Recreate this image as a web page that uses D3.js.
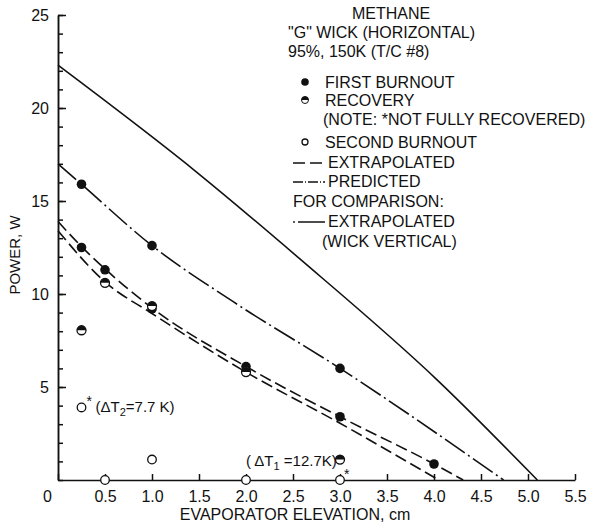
<!DOCTYPE html>
<html>
<head>
<meta charset="utf-8">
<script src="https://cdn.jsdelivr.net/npm/d3@7"></script>
<style>
  body { margin: 0; background: #fff; }
  svg { font-family: "Liberation Sans", Arial, sans-serif; }
  text { fill: #111; }
</style>
</head>
<body>
<svg width="589" height="526"></svg>
<script>
// points (evaporator elevation cm, power W)
const firstBurnoutX = [0.25, 1.0, 0.25, 0.5, 1.0, 2.0, 3.0, 3.0, 4.0];
const firstBurnoutY = [15.9, 12.6, 12.5, 11.3, 9.2, 6.1, 6.0, 3.4, 0.86];

const recoveryX = [0.25, 0.5, 1.0, 2.0, 3.0];
const recoveryY = [8.05, 10.6, 9.35, 5.8, 1.1];

const secondBurnoutX = [0.25, 1.0, 0.5, 2.0, 3.0];
const secondBurnoutY = [3.9, 1.1, 0, 0, 0];

// curves
const extrapUpperX = [0, 0.25, 0.5, 1.0, 2.0, 3.0, 4.0, 4.31];
const extrapUpperY = [13.9, 12.55, 11.35, 9.25, 6.1, 3.4, 0.86, 0];
const extrapLowerX = [0, 0.5, 1.0, 2.0, 3.0, 4.05];
const extrapLowerY = [13.4, 10.65, 8.95, 5.8, 3.05, 0];
const predictedX = [0, 0.25, 1.0, 1.86, 3.0, 4.74];
const predictedY = [17.0, 15.9, 12.6, 9.6, 6.0, 0];
const verticalX = [0, 1.5, 2.57, 4.03, 5.1];
const verticalY = [22.3, 16.45, 11.9, 5.4, 0];

const xTicks = [0, 0.5, 1.0, 1.5, 2.0, 2.5, 3.0, 3.5, 4.0, 4.5, 5.0, 5.5];
const xTickLabels = ['0', '0.5', '1.0', '1.5', '2.0', '2.5', '3.0', '3.5', '4.0', '4.5', '5.0', '5.5'];
const yTicks = [5, 10, 15, 20, 25];
const yMinorTicks = d3.range(0, 26);

const svg = d3.select('svg');

const x = d3.scaleLinear().domain([0, 5.5]).range([58, 575]);
const y = d3.scaleLinear().domain([0, 25]).range([480, 15]);

// axes
const xAxis = svg.append('g')
    .attr('transform', `translate(0,${y(0)})`)
    .call(d3.axisBottom(x)
        .tickValues(xTicks)
        .tickFormat((d, i) => xTickLabels[i])
        .tickSize(-6)
        .tickSizeOuter(0)
        .tickPadding(8));
xAxis.selectAll('text')
    .attr('font-size', 16)
    .attr('dy', '0.9em')
    .attr('dx', (d) => d === 0 ? -11 : 0);

svg.append('g')
    .attr('transform', `translate(${x(0)},0)`)
    .call(d3.axisLeft(y).tickValues(yMinorTicks).tickFormat('').tickSize(-5).tickSizeOuter(0));

const yAxis = svg.append('g')
    .attr('transform', `translate(${x(0)},0)`)
    .call(d3.axisLeft(y)
        .tickValues(yTicks)
        .tickSize(-8)
        .tickSizeOuter(0)
        .tickPadding(9));
yAxis.selectAll('text').attr('font-size', 16);

svg.selectAll('.domain, .tick line').attr('stroke', '#111').attr('stroke-width', 1.5);

// axis titles
svg.append('text')
    .attr('x', 295).attr('y', 520)
    .attr('text-anchor', 'middle')
    .attr('font-size', 16)
    .text('EVAPORATOR ELEVATION, cm');

svg.append('text')
    .attr('transform', 'translate(20,255) rotate(-90)')
    .attr('text-anchor', 'middle')
    .attr('font-size', 15)
    .text('POWER, W');

// lines
const line = d3.line()
    .x(d => x(d[0]))
    .y(d => y(d[1]))
    .curve(d3.curveMonotoneX);

const curves = [
    { xs: extrapUpperX, ys: extrapUpperY, dash: '12,5' },
    { xs: extrapLowerX, ys: extrapLowerY, dash: '12,5' },
    { xs: predictedX, ys: predictedY, dash: '24,4,2,4' },
    { xs: verticalX, ys: verticalY, dash: null }
];

svg.selectAll('path.curve')
    .data(curves)
    .enter()
    .append('path')
    .attr('class', 'curve')
    .attr('d', c => line(c.xs.map((v, i) => [v, c.ys[i]])))
    .attr('fill', 'none')
    .attr('stroke', '#111')
    .attr('stroke-width', 1.6)
    .attr('stroke-dasharray', c => c.dash);

// markers
const halfTop = d3.arc().innerRadius(0).outerRadius(4.5).startAngle(-Math.PI / 2).endAngle(Math.PI / 2);

function drawFilled(g, px, py, r) {
    g.append('circle').attr('cx', px).attr('cy', py).attr('r', r).attr('fill', '#111');
}
function drawHalf(g, px, py) {
    g.append('circle').attr('cx', px).attr('cy', py).attr('r', 4.5)
        .attr('fill', '#fff').attr('stroke', '#111').attr('stroke-width', 1.3);
    g.append('path').attr('d', halfTop()).attr('transform', `translate(${px},${py})`).attr('fill', '#111');
}
function drawOpen(g, px, py, r) {
    g.append('circle').attr('cx', px).attr('cy', py).attr('r', r)
        .attr('fill', '#fff').attr('stroke', '#111').attr('stroke-width', 1.3);
}

const marks = svg.append('g');
firstBurnoutX.forEach((v, i) => drawFilled(marks, x(v), y(firstBurnoutY[i]), 4.8));
recoveryX.forEach((v, i) => drawHalf(marks, x(v), y(recoveryY[i])));
secondBurnoutX.forEach((v, i) => drawOpen(marks, x(v), y(secondBurnoutY[i]), 4.3));

// annotations
svg.append('text').attr('x', x(0.25) + 5).attr('y', y(3.9) - 1).attr('font-size', 14).text('*');
const a2 = svg.append('text').attr('x', x(0.25) + 14).attr('y', y(3.9) + 5).attr('font-size', 15);
a2.append('tspan').text('(ΔT');
a2.append('tspan').attr('font-size', 11).attr('dy', 4).text('2');
a2.append('tspan').attr('dy', -4).text('=7.7 K)');

const a1 = svg.append('text').attr('x', 246).attr('y', y(1.1) + 6).attr('font-size', 15);
a1.append('tspan').text('( ΔT');
a1.append('tspan').attr('font-size', 11).attr('dy', 4).text('1');
a1.append('tspan').attr('dy', -4).text(' =12.7K)');
svg.append('text').attr('x', x(3.0) + 4).attr('y', y(0) - 1).attr('font-size', 14).text('*');

// legend
const titleLines = ['METHANE', '"G" WICK (HORIZONTAL)', '95%, 150K (T/C #8)'];
const titleX = [352, 288, 288];
const titleY = [19, 38, 57];
svg.selectAll('text.title')
    .data(titleLines)
    .enter()
    .append('text')
    .attr('class', 'title')
    .attr('x', (d, i) => titleX[i])
    .attr('y', (d, i) => titleY[i])
    .attr('font-size', 16)
    .text(d => d);

const legendText = ['FIRST BURNOUT', 'RECOVERY', '(NOTE: *NOT FULLY RECOVERED)', 'SECOND BURNOUT',
    'EXTRAPOLATED', 'PREDICTED', 'FOR COMPARISON:', 'EXTRAPOLATED', '(WICK VERTICAL)'];
const legendX = [325, 325, 323, 325, 328, 328, 293, 328, 322];
const legendY = [88, 106, 125, 148, 168, 187, 207, 227, 247];
svg.selectAll('text.legend')
    .data(legendText)
    .enter()
    .append('text')
    .attr('class', 'legend')
    .attr('x', (d, i) => legendX[i])
    .attr('y', (d, i) => legendY[i])
    .attr('font-size', 16)
    .text(d => d);

const lg = svg.append('g');
drawFilled(lg, 305, 82, 3.8);
lg.append('circle').attr('cx', 305).attr('cy', 100).attr('r', 3.5).attr('fill', '#fff').attr('stroke', '#111').attr('stroke-width', 1);
lg.append('path').attr('d', d3.arc().innerRadius(0).outerRadius(3.5).startAngle(-Math.PI / 2).endAngle(Math.PI / 2)())
    .attr('transform', 'translate(305,100)').attr('fill', '#111');
drawOpen(lg, 305, 142, 3);
lg.append('line').attr('x1', 293).attr('x2', 325).attr('y1', 163).attr('y2', 163)
    .attr('stroke', '#111').attr('stroke-width', 1.5).attr('stroke-dasharray', '12,5');
lg.append('line').attr('x1', 293).attr('x2', 325).attr('y1', 182).attr('y2', 182)
    .attr('stroke', '#111').attr('stroke-width', 1.5).attr('stroke-dasharray', '10,2,1,2');
lg.append('circle').attr('cx', 294).attr('cy', 222).attr('r', 0.9).attr('fill', '#111');
lg.append('line').attr('x1', 298).attr('x2', 325).attr('y1', 222).attr('y2', 222)
    .attr('stroke', '#111').attr('stroke-width', 1.5);
</script>
</body>
</html>
